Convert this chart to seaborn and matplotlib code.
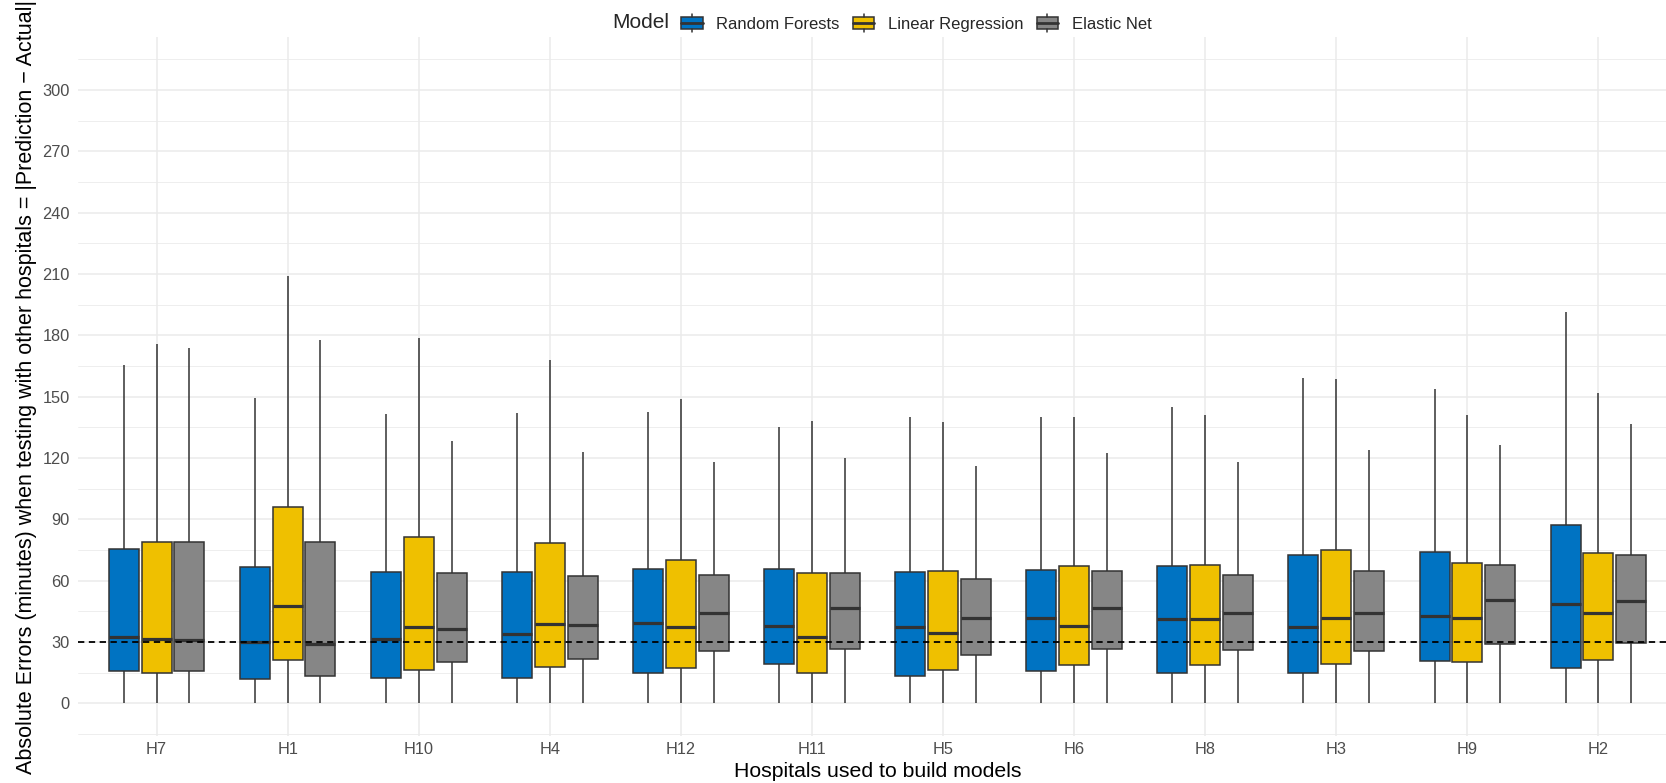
import numpy as np
import pandas as pd
import matplotlib
matplotlib.use("Agg")
import matplotlib.pyplot as plt
import seaborn as sns
from matplotlib.legend_handler import HandlerBase
from matplotlib.patches import Patch, Rectangle
from matplotlib.lines import Line2D

# ==========================================
# DATA (five-number summaries)
# ==========================================

hospitals = ["H7", "H1", "H10", "H4", "H12", "H11", "H5", "H6", "H8", "H3", "H9", "H2"]
models = ["Random Forests", "Linear Regression", "Elastic Net"]

rf_q1 = [15.6, 11.8, 12.6, 12.6, 14.8, 19.3, 13.5, 15.6, 15.0, 14.6, 20.6, 17.4]
rf_med = [32.6, 29.8, 31.7, 34.1, 39.2, 37.9, 37.1, 41.6, 41.4, 37.3, 42.9, 48.6]
rf_q3 = [75.6, 66.9, 64.3, 64.3, 65.8, 65.6, 64.1, 65.3, 67.1, 72.6, 73.9, 87.2]
rf_hi = [165.4, 149.4, 141.6, 141.8, 142.7, 135.2, 140.1, 140.1, 145.0, 159.4, 154.0, 191.6]

lr_q1 = [14.6, 21.0, 16.1, 17.8, 17.4, 14.6, 16.1, 18.8, 18.8, 19.1, 20.3, 21.4]
lr_med = [31.5, 47.4, 37.3, 38.8, 37.5, 32.3, 34.3, 37.9, 41.1, 41.8, 41.8, 44.4]
lr_q3 = [79.0, 96.2, 81.2, 78.2, 70.1, 63.9, 64.7, 67.3, 67.7, 75.0, 68.6, 73.5]
lr_hi = [175.7, 209.0, 178.9, 168.2, 149.1, 138.2, 137.6, 140.3, 141.0, 158.6, 141.2, 151.7]

en_q1 = [15.6, 13.3, 20.4, 21.6, 25.5, 26.6, 23.6, 26.4, 25.9, 25.5, 28.9, 29.3]
en_med = [30.8, 29.0, 36.4, 38.1, 44.3, 46.5, 41.6, 46.5, 44.4, 44.1, 50.3, 50.1]
en_q3 = [79.0, 79.0, 63.6, 62.3, 62.6, 63.9, 60.6, 64.7, 62.8, 64.7, 67.9, 72.4]
en_hi = [173.6, 177.7, 128.4, 123.0, 117.9, 120.0, 115.9, 122.3, 117.9, 123.8, 126.4, 136.7]

lower_whisker = 0.0

colors = ["#0073C2", "#EFC000", "#868686"]
EDGE = "#333333"

# ==========================================
# LONG TABLE: five points per box reproduce the summary exactly
# ==========================================

summaries = {
    "Random Forests": (rf_q1, rf_med, rf_q3, rf_hi),
    "Linear Regression": (lr_q1, lr_med, lr_q3, lr_hi),
    "Elastic Net": (en_q1, en_med, en_q3, en_hi),
}

rows = []
for model, (q1, med, q3, hi) in summaries.items():
    for i, h in enumerate(hospitals):
        for v in (lower_whisker, q1[i], med[i], q3[i], hi[i]):
            rows.append({"hospital": h, "model": model, "error": v})
df = pd.DataFrame(rows)

# ==========================================
# PLOT
# ==========================================

sns.set_theme(style="white")
plt.rcParams["font.family"] = ["Liberation Sans", "DejaVu Sans"]

fig = plt.figure(figsize=(16.66, 7.83), dpi=100)
ax = fig.add_axes([78 / 1666, 47 / 783, 1599 / 1666, 699 / 783])

sns.boxplot(
    data=df,
    x="hospital",
    y="error",
    hue="model",
    order=hospitals,
    hue_order=models,
    palette=colors,
    saturation=1,
    width=0.75,
    gap=0.085,
    whis=(0, 100),
    showfliers=False,
    showcaps=False,
    linecolor=EDGE,
    linewidth=1.1,
    medianprops={"linewidth": 2.3},
    legend=False,
    ax=ax,
)

ax.axhline(30, color="black", lw=1.3, ls=(0, (3.5, 2.5)), zorder=10)

ax.set_xlim(-0.6, 11.6)
ax.set_ylim(-16, 326)
ax.set_yticks(np.arange(0, 301, 30))
ax.set_yticks(np.arange(-15, 316, 30), minor=True)
ax.set_axisbelow(True)
ax.grid(which="major", color="#EBEBEB", lw=1.1)
ax.grid(which="minor", axis="y", color="#EBEBEB", lw=0.6)
ax.tick_params(which="both", length=0, labelsize=11.8, labelcolor="#4D4D4D")
ax.tick_params(axis="y", pad=6)
ax.tick_params(axis="x", pad=4)
for s in ax.spines.values():
    s.set_visible(False)

ax.set_xlabel("Hospitals used to build models", fontsize=15.3, color="black", va="center")
ax.xaxis.set_label_coords(0.5, -0.0515)
ax.set_ylabel(
    "Absolute Errors (minutes) when testing with other hospitals = |Prediction \u2212 Actual|",
    fontsize=15.5, color="black", va="center",
)
ax.yaxis.set_label_coords(-0.0319, 0.5)

# ==========================================
# LEGEND (title on the left, boxplot keys)
# ==========================================


class BoxKey(HandlerBase):
    def create_artists(self, legend, orig_handle, xdescent, ydescent,
                       width, height, fontsize, trans):
        x0, y0 = -xdescent, -ydescent
        fc = orig_handle.get_facecolor()
        box = Rectangle((x0, y0 + 0.16 * height), width, 0.68 * height,
                        facecolor=fc, edgecolor=EDGE, lw=1.1, transform=trans)
        med = Line2D([x0, x0 + width], [y0 + 0.5 * height] * 2,
                     color=EDGE, lw=2.0, transform=trans)
        lo = Line2D([x0 + width / 2] * 2, [y0, y0 + 0.16 * height],
                    color=EDGE, lw=1.1, transform=trans)
        hi = Line2D([x0 + width / 2] * 2, [y0 + 0.84 * height, y0 + height],
                    color=EDGE, lw=1.1, transform=trans)
        return [box, med, lo, hi]


handles = [Patch(facecolor=c) for c in colors]
fig.text(612 / 1666, 1 - 23 / 783, "Model", fontsize=15.0, ha="left", va="center")
fig.legend(
    handles,
    models,
    handler_map={Patch: BoxKey()},
    loc="center left",
    bbox_to_anchor=(681 / 1666, 1 - 23 / 783),
    ncol=3,
    frameon=False,
    fontsize=12.0,
    borderpad=0,
    borderaxespad=0,
    handlelength=1.3,
    handleheight=1.35,
    handletextpad=0.8,
    columnspacing=0.8,
)

fig.savefig("out.png", dpi=100)
